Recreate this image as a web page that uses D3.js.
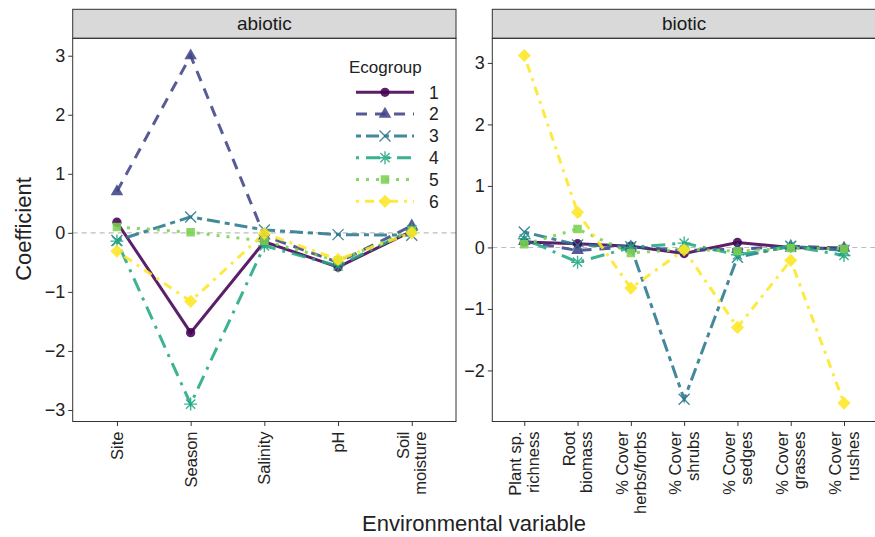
<!DOCTYPE html>
<html><head><meta charset="utf-8">
<script src="https://cdn.jsdelivr.net/npm/d3@7"></script>
<style>body{margin:0;background:#fff}svg{display:block;font-family:"Liberation Sans",Arial,sans-serif}</style>
</head><body><svg id="c" width="875" height="537"></svg>
<script>
// ---- data ----
const groups = ["1","2","3","4","5","6"];
const colors = ["#440154","#414487","#2A788E","#22A884","#7AD151","#FDE725"];
const abioticVars = ["Site","Season","Salinity","pH","Soil moisture"];
const abioticLabels = [["Site"],["Season"],["Salinity"],["pH"],["Soil","moisture"]];
const bioticVars = ["Plant sp. richness","Root biomass","% Cover herbs/forbs","% Cover shrubs","% Cover sedges","% Cover grasses","% Cover rushes"];
const bioticLabels = [["Plant sp.","richness"],["Root","biomass"],["% Cover","herbs/forbs"],["% Cover","shrubs"],["% Cover","sedges"],["% Cover","grasses"],["% Cover","rushes"]];
const abiotic1 = [0.18, -1.69, -0.15, -0.58, 0.03];
const abiotic2 = [0.70, 3.00, -0.05, -0.50, 0.12];
const abiotic3 = [-0.13, 0.27, 0.05, -0.03, -0.04];
const abiotic4 = [-0.14, -2.90, -0.22, -0.56, 0.05];
const abiotic5 = [0.10, 0.01, -0.14, -0.47, 0.04];
const abiotic6 = [-0.31, -1.16, -0.01, -0.45, 0.00];
const biotic1 = [0.09, 0.06, 0.02, -0.10, 0.08, 0.00, -0.02];
const biotic2 = [0.10, -0.05, 0.01, -0.05, -0.03, 0.02, -0.01];
const biotic3 = [0.25, 0.04, 0.01, -2.47, -0.16, 0.02, -0.05];
const biotic4 = [0.14, -0.24, 0.00, 0.07, -0.12, 0.02, -0.13];
const biotic5 = [0.05, 0.30, -0.09, -0.03, -0.06, -0.01, -0.02];
const biotic6 = [3.12, 0.57, -0.66, -0.04, -1.30, -0.21, -2.53];
const abioticTicks = [-3,-2,-1,0,1,2,3];
const bioticTicks = [-2,-1,0,1,2,3];

// ---- styles ----
const dashes = ["", "11,8", "5,5,13,5", "3,7,14,7", "3,7", "3,6,9,6"];
const shapes = ["circle","triangle","x","asterisk","square","diamond"];
const lw = 3, op = 0.88;

const svg = d3.select("#c");
const plotTop = 38.3, plotBottom = 421.5, stripTop = 9.3;

function symbolPath(shape){
  if(shape==="circle") return d3.symbol(d3.symbolCircle, 68)();
  if(shape==="triangle") return d3.symbol(d3.symbolTriangle, 68)();
  if(shape==="square") return d3.symbol(d3.symbolSquare, 72)();
  if(shape==="diamond") { const s=6.6; return `M0,${-s}L${s},0L0,${s}L${-s},0Z`; }
  if(shape==="x") { const s=5.5; return `M${-s},${-s}L${s},${s}M${-s},${s}L${s},${-s}`; }
  if(shape==="asterisk") { const s=6.5, d=s*0.707; return `M${-s},0L${s},0M0,${-s}L0,${s}M${-d},${-d}L${d},${d}M${-d},${d}L${d},${-d}`; }
}
function drawSymbol(g, shape, col, x, y){
  const stroke = (shape==="x"||shape==="asterisk");
  g.append("path").attr("d", symbolPath(shape)).attr("transform",`translate(${x},${y})`)
    .attr("fill", stroke?"none":col).attr("stroke", stroke?col:"none").attr("stroke-width",1.4).attr("opacity",op);
}

function panel(x0, x1, title, vars, labels, series, ydom, ticks){
  const g = svg.append("g");
  const x = d3.scalePoint().domain(vars).range([x0,x1]).padding(0.6);
  const y = d3.scaleLinear().domain(ydom).range([plotBottom, plotTop]);
  // strip
  g.append("rect").attr("x",x0).attr("y",stripTop).attr("width",x1-x0).attr("height",plotTop-stripTop)
    .attr("fill","#D9D9D9").attr("stroke","#333").attr("stroke-width",1);
  g.append("text").attr("x",(x0+x1)/2).attr("y",(stripTop+plotTop)/2).attr("dy","0.35em").attr("text-anchor","middle")
    .attr("font-size",19).attr("fill","#1A1A1A").text(title);
  // zero line
  g.append("line").attr("x1",x0).attr("x2",x1).attr("y1",y(0)).attr("y2",y(0))
    .attr("stroke","#BDBDBD").attr("stroke-width",1.1).attr("stroke-dasharray","5,4");
  // y axis
  const ya = g.append("g").attr("transform",`translate(${x0},0)`).call(d3.axisLeft(y).tickValues(ticks).tickSize(4.5).tickPadding(3).tickFormat(d=>d<0?"\u2212"+Math.abs(d):d));
  ya.select(".domain").remove();
  ya.selectAll("line").attr("stroke","#333");
  ya.selectAll("text").attr("font-size",18).attr("fill","#222").attr("font-family","'Liberation Sans',Arial,sans-serif");
  // x axis
  const xa = g.append("g").attr("transform",`translate(0,${plotBottom})`).call(d3.axisBottom(x).tickSize(4.5).tickFormat(""));
  xa.select(".domain").remove();
  xa.selectAll("line").attr("stroke","#333");
  vars.forEach((v,i)=>{
    const lines = labels[i];
    const t = g.append("text").attr("transform",`translate(${x(v)},${plotBottom+10}) rotate(-90)`)
      .attr("text-anchor","end").attr("font-size",16.5).attr("fill","#222");
    const lh = 17.5;
    lines.forEach((ln,j)=>{
      t.append("tspan").attr("x",0).attr("y",(j-(lines.length-1)/2)*lh).attr("dy","0.36em").text(ln);
    });
  });
  // lines
  const clip = "clip"+title;
  svg.append("clipPath").attr("id",clip).append("rect").attr("x",x0).attr("y",plotTop).attr("width",x1-x0).attr("height",plotBottom-plotTop);
  const pg = g.append("g").attr("clip-path",`url(#${clip})`);
  const line = d3.line().x((d,i)=>x(vars[i])).y(d=>y(d));
  series.forEach((s,k)=>{
    pg.append("path").attr("d",line(s)).attr("fill","none").attr("stroke",colors[k]).attr("stroke-width",lw)
      .attr("stroke-dasharray",dashes[k]||null).attr("opacity",op);
  });
  series.forEach((s,k)=>{
    s.forEach((d,i)=> drawSymbol(pg, shapes[k], colors[k], x(vars[i]), y(d)));
  });
  // border
  g.append("rect").attr("x",x0).attr("y",plotTop).attr("width",x1-x0).attr("height",plotBottom-plotTop)
    .attr("fill","none").attr("stroke","#333").attr("stroke-width",1);
  return g;
}

panel(72.7, 456, "abiotic", abioticVars, abioticLabels,
  [abiotic1,abiotic2,abiotic3,abiotic4,abiotic5,abiotic6], [-3.195, 3.295], abioticTicks);
panel(492.3, 876, "biotic", bioticVars, bioticLabels,
  [biotic1,biotic2,biotic3,biotic4,biotic5,biotic6], [-2.83, 3.40], bioticTicks);

// legend
const lg = svg.append("g");
lg.append("text").attr("x",349).attr("y",73).attr("font-size",17).attr("fill","#222").text("Ecogroup");
groups.forEach((gname,k)=>{
  const yy = 92.3 + k*21.8;
  lg.append("line").attr("x1",356).attr("x2",414).attr("y1",yy).attr("y2",yy)
    .attr("stroke",colors[k]).attr("stroke-width",lw).attr("stroke-dasharray",dashes[k]||null).attr("opacity",op);
  drawSymbol(lg, shapes[k], colors[k], 385, yy);
  lg.append("text").attr("x",429).attr("y",yy).attr("dy","0.36em").attr("font-size",17.5).attr("fill","#222").text(gname);
});

// axis titles
svg.append("text").attr("transform","translate(31,229) rotate(-90)").attr("text-anchor","middle")
  .attr("font-size",22).attr("fill","#222").text("Coefficient");
svg.append("text").attr("x",474).attr("y",531).attr("text-anchor","middle")
  .attr("font-size",22).attr("fill","#222").text("Environmental variable");
</script></body></html>
